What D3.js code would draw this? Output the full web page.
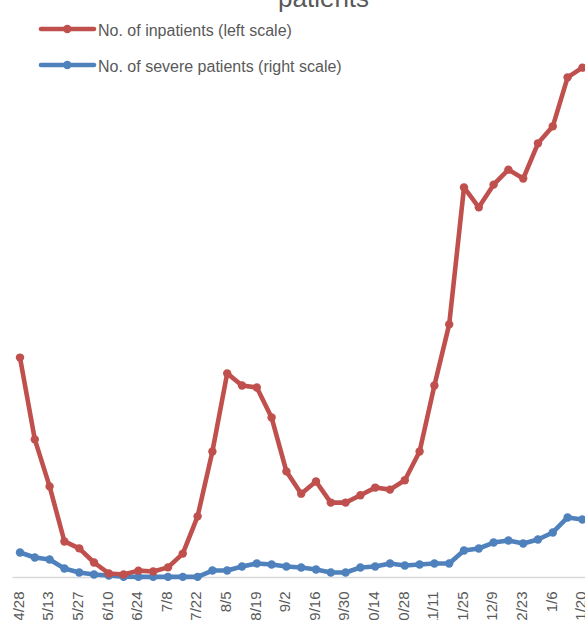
<!DOCTYPE html>
<html>
<head>
<meta charset="utf-8">
<script src="https://cdn.jsdelivr.net/npm/d3@7"></script>
<style>
  html, body { margin: 0; padding: 0; background: #fff; }
  svg { display: block; font-family: "Liberation Sans", Arial, sans-serif; }
</style>
</head>
<body>
<svg id="chart" width="585" height="620"></svg>
<script>
const dates = ["4/28","5/5","5/13","5/20","5/27","6/3","6/10","6/17","6/24","7/1","7/8","7/15","7/22","7/29","8/5","8/12","8/19","8/26","9/2","9/9","9/16","9/23","9/30","10/7","10/14","10/21","10/28","11/4","11/11","11/18","11/25","12/2","12/9","12/16","12/23","12/30","1/6","1/13","1/20"];
const inpatients = [5430,3410,2250,890,720,370,100,75,170,150,250,590,1510,3110,5040,4740,4690,3950,2620,2070,2370,1850,1850,2030,2220,2170,2400,3110,4740,6250,9630,9140,9700,10070,9850,10720,11140,12350,12590];
const severe = [309,247,222,111,62,37,25,10,8,8,8,8,8,86,86,136,173,160,136,123,99,62,62,123,136,173,148,160,173,173,333,358,432,457,420,469,556,741,716];
const tickLabels = ["4/28","5/13","5/27","6/10","6/24","7/8","7/22","8/5","8/19","9/2","9/16","9/30","10/14","10/28","11/11","11/25","12/9","12/23","1/6","1/20"];
const seriesNames = ["No. of inpatients (left scale)", "No. of severe patients (right scale)"];
const titleText = "patients";

const svg = d3.select("#chart");
const red = "#C0504D", blue = "#4F81BD", textCol = "#595959";

const x = d3.scalePoint().domain(dates).range([12.6, 589.8]).padding(0.5);
const yL = d3.scaleLinear().domain([0, 14000]).range([577.5, 10.5]);
const yR = d3.scaleLinear().domain([0, 7000]).range([577.5, 10.5]);

// title (cut at top)
svg.append("text").attr("x", 278).attr("y", 7).attr("text-anchor", "start")
  .attr("font-size", 26).attr("fill", textCol).text(titleText);

// baseline axis
svg.append("line").attr("x1", 12.6).attr("x2", 590).attr("y1", 577.5).attr("y2", 577.5)
  .attr("stroke", "#D9D9D9").attr("stroke-width", 1.3);

// x labels
const labelSet = new Set(tickLabels);
svg.append("g").selectAll("text").data(dates.filter(d => labelSet.has(d))).join("text")
  .attr("transform", d => `translate(${x(d)},591.5) rotate(-90)`)
  .attr("text-anchor", "end").attr("dy", "0.25em")
  .attr("font-size", 15).attr("fill", textCol).text(d => d);

function drawSeries(vals, scale, color) {
  const g = svg.append("g");
  const line = d3.line().x((d, i) => x(dates[i])).y(d => scale(d));
  g.append("path").datum(vals).attr("d", line).attr("fill", "none")
    .attr("stroke", color).attr("stroke-width", 4.6).attr("stroke-linejoin", "round").attr("stroke-linecap", "round");
  g.selectAll("circle").data(vals).join("circle")
    .attr("cx", (d, i) => x(dates[i])).attr("cy", d => scale(d)).attr("r", 4.2).attr("fill", color);
}
drawSeries(severe, yR, blue);
drawSeries(inpatients, yL, red);

// legend
const legend = [{name: seriesNames[0], color: red, y: 29}, {name: seriesNames[1], color: blue, y: 65}];
legend.forEach(l => {
  svg.append("line").attr("x1", 41).attr("x2", 94).attr("y1", l.y).attr("y2", l.y)
    .attr("stroke", l.color).attr("stroke-width", 4.6).attr("stroke-linecap", "round");
  svg.append("circle").attr("cx", 67.3).attr("cy", l.y).attr("r", 4.2).attr("fill", l.color);
  svg.append("text").attr("x", 98).attr("y", l.y + 6.5).attr("font-size", 16)
    .attr("fill", textCol).text(l.name);
});
</script>
</body>
</html>
